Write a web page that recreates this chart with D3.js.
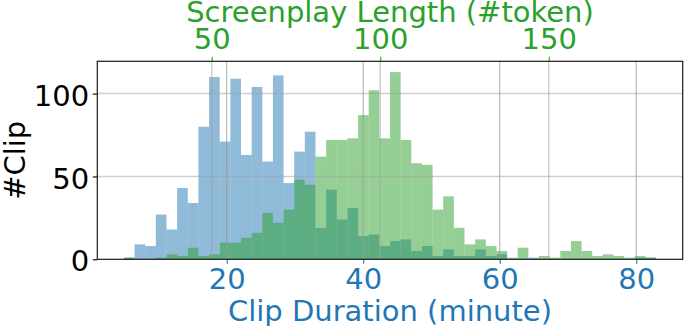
<!DOCTYPE html>
<html>
<head>
<meta charset="utf-8">
<script src="https://cdn.jsdelivr.net/npm/d3@7"></script>
<style>
  html, body { margin: 0; padding: 0; background: #fff; }
  svg { display: block; }
  text { font-family: "DejaVu Sans", sans-serif; }
</style>
</head>
<body>
<div id="chart"></div>
<script>
// ---- data ----
// Clip duration histogram (bottom axis, minutes): 50 bins
const durationBinStart = 4.94;
const durationBinWidth = 1.5594;
const durationCounts = [1, 9, 8, 27, 18, 43, 34, 80, 110, 71,
                        109, 63, 104, 59, 111, 46, 65, 77, 19, 42,
                        24, 31, 14, 15, 8, 11, 12, 5, 8, 2,
                        6, 2, 2, 6, 2, 3, 0, 0, 1, 0,
                        0, 0, 0, 0, 0, 0, 0, 0, 1, 1];
// Screenplay length histogram (top axis, #token): 50 bins
const lengthBinStart = 23.95;
const lengthBinWidth = 3.158;
const lengthCounts = [1, 0, 0, 1, 3, 2, 7, 2, 3, 10,
                      10, 13, 16, 28, 22, 30, 48, 45, 62, 72,
                      72, 73, 87, 102, 73, 113, 72, 58, 57, 30,
                      38, 19, 9, 12, 8, 5, 1, 7, 0, 2,
                      1, 5, 11, 5, 2, 3, 2, 1, 2, 1];
const durationTicks = [20, 40, 60, 80];
const lengthTicks = [50, 100, 150];
const countTicks = [0, 50, 100];
const xLabelBottom = "Clip Duration (minute)";
const xLabelTop = "Screenplay Length (#token)";
const yLabel = "#Clip";

// ---- layout ----
const W = 685, H = 326;
const L = 97.3, R = 682.7, T = 61.3, B = 259.3;
const FS = 29;
const BLUE = "#1f77b4", GREEN = "#2ca02c";

function paddedDomain(start, width, n) {
  const span = width * n;
  return [start - 0.05 * span, start + span + 0.05 * span];
}

const xDur = d3.scaleLinear()
  .domain(paddedDomain(durationBinStart, durationBinWidth, durationCounts.length))
  .range([L, R]);
const xLen = d3.scaleLinear()
  .domain(paddedDomain(lengthBinStart, lengthBinWidth, lengthCounts.length))
  .range([L, R]);
const y = d3.scaleLinear().domain([0, 119.5]).range([B, T]);

const svg = d3.select("#chart").append("svg")
  .attr("width", W).attr("height", H)
  .attr("viewBox", `0 0 ${W} ${H}`);
svg.append("rect").attr("width", W).attr("height", H).attr("fill", "#fff");

const durBins = durationCounts.map((c, i) => ({
  x0: durationBinStart + i * durationBinWidth,
  x1: durationBinStart + (i + 1) * durationBinWidth, c }));
const lenBins = lengthCounts.map((c, i) => ({
  x0: lengthBinStart + i * lengthBinWidth,
  x1: lengthBinStart + (i + 1) * lengthBinWidth, c }));

// blue bars
svg.append("g").selectAll("rect").data(durBins.filter(d => d.c > 0)).join("rect")
  .attr("x", d => xDur(d.x0))
  .attr("width", d => xDur(d.x1) - xDur(d.x0))
  .attr("y", d => y(d.c))
  .attr("height", d => y(0) - y(d.c))
  .attr("fill", BLUE).attr("fill-opacity", 0.5);

// green bars
svg.append("g").selectAll("rect").data(lenBins.filter(d => d.c > 0)).join("rect")
  .attr("x", d => xLen(d.x0))
  .attr("width", d => xLen(d.x1) - xLen(d.x0))
  .attr("y", d => y(d.c))
  .attr("height", d => y(0) - y(d.c))
  .attr("fill", GREEN).attr("fill-opacity", 0.5);

// grid lines
const grid = svg.append("g");
grid.selectAll("line.h").data(countTicks.filter(v => v > 0)).join("line")
  .attr("x1", L).attr("x2", R)
  .attr("y1", d => y(d)).attr("y2", d => y(d))
  .attr("stroke", "#a0a0a0").attr("stroke-opacity", 0.5).attr("stroke-width", 1.5);
grid.selectAll("line.vl").data(lengthTicks).join("line")
  .attr("x1", d => xLen(d)).attr("x2", d => xLen(d))
  .attr("y1", T).attr("y2", B)
  .attr("stroke", "#a0a0a0").attr("stroke-opacity", 0.5).attr("stroke-width", 1.5);
grid.selectAll("line.vd").data(durationTicks).join("line")
  .attr("x1", d => xDur(d)).attr("x2", d => xDur(d))
  .attr("y1", T).attr("y2", B)
  .attr("stroke", "#9a9a9a").attr("stroke-opacity", 0.75).attr("stroke-width", 1.1);

// axes
const tickLen = 4.5;
const gBottom = svg.append("g").attr("transform", `translate(0,${B})`)
  .call(d3.axisBottom(xDur).tickValues(durationTicks).tickSize(tickLen).tickPadding(4.6).tickFormat(d3.format("d")));
gBottom.select(".domain").remove();
gBottom.selectAll("line").attr("stroke", BLUE).attr("stroke-width", 1.1);
gBottom.selectAll("text").attr("fill", BLUE).attr("font-size", FS)
  .attr("font-family", "DejaVu Sans");

const gTop = svg.append("g").attr("transform", `translate(0,${T})`)
  .call(d3.axisTop(xLen).tickValues(lengthTicks).tickSize(tickLen).tickPadding(8.2).tickFormat(d3.format("d")));
gTop.select(".domain").remove();
gTop.selectAll("line").attr("stroke", GREEN).attr("stroke-width", 1.1);
gTop.selectAll("text").attr("fill", GREEN).attr("font-size", FS)
  .attr("font-family", "DejaVu Sans");

const gLeft = svg.append("g").attr("transform", `translate(${L},0)`)
  .call(d3.axisLeft(y).tickValues(countTicks).tickSize(tickLen).tickPadding(3.6).tickFormat(d3.format("d")));
gLeft.select(".domain").remove();
gLeft.selectAll("line").attr("stroke", "#000").attr("stroke-width", 1.1);
gLeft.selectAll("text").attr("fill", "#000").attr("font-size", FS)
  .attr("font-family", "DejaVu Sans").attr("dy", "0.4em");

// spines
svg.append("rect").attr("x", L).attr("y", T)
  .attr("width", R - L).attr("height", B - T)
  .attr("fill", "none").attr("stroke", "#1a1a1a").attr("stroke-width", 1.2);

// axis labels
svg.append("text").attr("x", (L + R) / 2).attr("y", 320.7)
  .attr("text-anchor", "middle").attr("font-size", FS).attr("fill", BLUE)
  .text(xLabelBottom);
svg.append("text").attr("x", (L + R) / 2).attr("y", 21.7)
  .attr("text-anchor", "middle").attr("font-size", FS).attr("fill", GREEN)
  .text(xLabelTop);
svg.append("text")
  .attr("transform", `translate(24.5,${(T + B) / 2}) rotate(-90)`)
  .attr("text-anchor", "middle").attr("font-size", FS).attr("fill", "#000")
  .text(yLabel);
</script>
</body>
</html>
